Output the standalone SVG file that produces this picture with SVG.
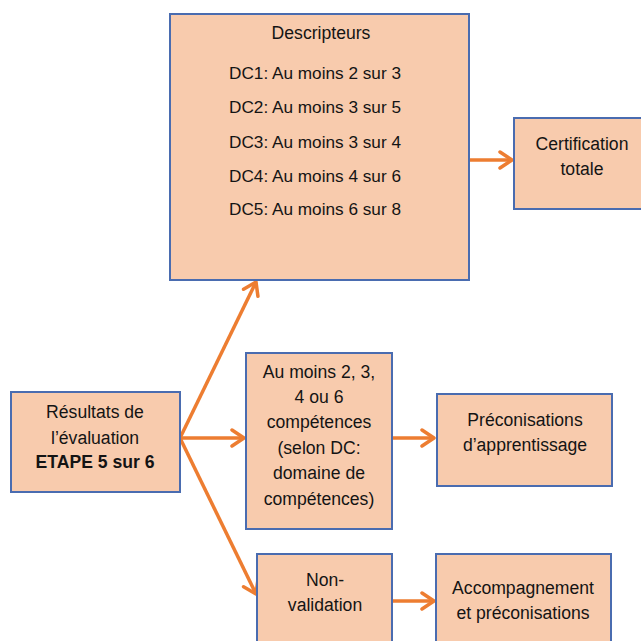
<svg xmlns="http://www.w3.org/2000/svg" width="641" height="641" viewBox="0 0 641 641">
<defs>
<style>
.box{fill:#F8CBAD;stroke:#4A6CB0;stroke-width:2}
.t{font-family:"Liberation Sans",Arial,sans-serif;font-size:17.6px;fill:#141414;text-anchor:middle}
.d{font-size:17.2px}
.b{font-weight:bold}
.c{stroke:#ED7D31;stroke-width:3.5;fill:none;marker-end:url(#ah)}
</style>
<marker id="ah" markerUnits="userSpaceOnUse" viewBox="-16 -11 18 22" markerWidth="18" markerHeight="22" refX="0" refY="0" orient="auto">
<path d="M -12 -8 L 0 0 L -12 8" fill="none" stroke="#ED7D31" stroke-width="3.5" stroke-linecap="round" stroke-linejoin="round"/>
</marker>
</defs>
<rect width="641" height="641" fill="#ffffff"/>
<g id="connectors">
<line class="c" x1="180" y1="438" x2="256" y2="282"/>
<line class="c" x1="180" y1="438" x2="244" y2="438"/>
<line class="c" x1="180" y1="438" x2="256" y2="594"/>
<line class="c" x1="469" y1="160" x2="512" y2="160"/>
<line class="c" x1="392" y1="438" x2="434" y2="438"/>
<line class="c" x1="392" y1="601" x2="434" y2="601"/>
</g>
<g id="descripteurs">
<rect class="box" x="170" y="14" width="299" height="266"/>
<text class="t" x="321" y="39">Descripteurs</text>
<text class="t d" x="315" y="79">DC1: Au moins 2 sur 3</text>
<text class="t d" x="315" y="113">DC2: Au moins 3 sur 5</text>
<text class="t d" x="315" y="148">DC3: Au moins 3 sur 4</text>
<text class="t d" x="315" y="182">DC4: Au moins 4 sur 6</text>
<text class="t d" x="315" y="215">DC5: Au moins 6 sur 8</text>
</g>
<g id="certification">
<rect class="box" x="514" y="118" width="128" height="91"/>
<text class="t" x="582" y="150">Certification</text>
<text class="t" x="582" y="175">totale</text>
</g>
<g id="resultats">
<rect class="box" x="11" y="392" width="169" height="100"/>
<text class="t" x="95" y="418">Résultats de</text>
<text class="t" x="95" y="444">l’évaluation</text>
<text class="t b" x="95" y="468">ETAPE 5 sur 6</text>
</g>
<g id="competences">
<rect class="box" x="246" y="353" width="146" height="176"/>
<text class="t" x="319" y="378">Au moins 2, 3,</text>
<text class="t" x="319" y="403">4 ou 6</text>
<text class="t" x="319" y="428">compétences</text>
<text class="t" x="319" y="454">(selon DC:</text>
<text class="t" x="319" y="479">domaine de</text>
<text class="t" x="319" y="505">compétences)</text>
</g>
<g id="preconisations">
<rect class="box" x="437" y="394" width="175" height="92"/>
<text class="t" x="525" y="426">Préconisations</text>
<text class="t" x="525" y="451">d’apprentissage</text>
</g>
<g id="nonvalidation">
<rect class="box" x="257" y="554" width="135" height="100"/>
<text class="t" x="325" y="586">Non-</text>
<text class="t" x="325" y="611">validation</text>
</g>
<g id="accompagnement">
<rect class="box" x="436" y="554" width="175" height="100"/>
<text class="t" x="523" y="594">Accompagnement</text>
<text class="t" x="523" y="619">et préconisations</text>
</g>
</svg>
